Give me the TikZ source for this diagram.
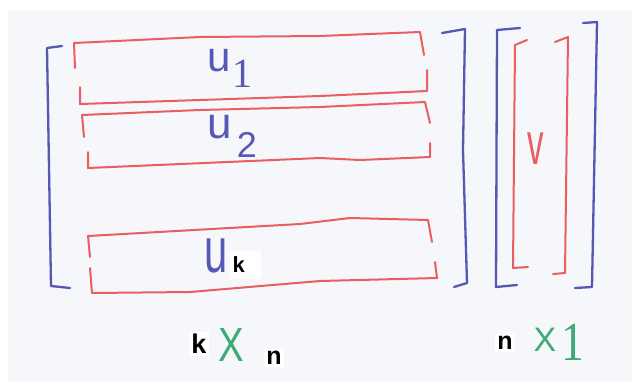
\documentclass[tikz,border=0pt]{standalone}
\usepackage{fontspec}
\setmainfont{Liberation Sans}
\newfontfamily\penserif{Liberation Serif}
\definecolor{penred}{HTML}{E95E61}
\definecolor{penblue}{HTML}{5558B4}
\definecolor{pengreen}{HTML}{3FAA78}
\definecolor{paper}{HTML}{F5F7FB}
\tikzset{
  redpen/.style={draw=penred, line width=2pt, line cap=round, line join=round},
  bluepen/.style={draw=penblue, line width=2.3pt, line cap=round, line join=round},
  handtxt/.style={inner sep=0pt},
  typed/.style={inner sep=2.5pt, fill=white, text=black},
}
\newcommand{\fsz}[1]{\fontsize{#1}{#1}\selectfont}
\begin{document}
\begin{tikzpicture}[x=1pt,y=-1pt]
\useasboundingbox (0,0) rectangle (632,381);
\fill[white] (0,0) rectangle (632,381);
\fill[paper] (8,10) rectangle (632,381);

% big left matrix brackets
\draw[bluepen] (62,46) -- (47,48) -- (51,286) -- (70,288);
\draw[bluepen] (442,33) -- (465,29) -- (463,150) -- (467,283) -- (454,287);

% row box u1
\draw[redpen] (75,68) -- (74,43) -- (200,37) -- (320,36) -- (420,32) -- (424,55);
\draw[redpen] (80,87) -- (80,104) -- (320,96) -- (427,91) -- (427,70);
% row box u2
\draw[redpen] (84,137) -- (82,115) -- (200,110) -- (320,107) -- (425,102) -- (430,123);
\draw[redpen] (88,152) -- (88,168) -- (320,158) -- (360,160) -- (430,157) -- (430,143);
% row box uk
\draw[redpen] (90,257) -- (88,236) -- (300,224) -- (350,218) -- (428,220) -- (432,242);
\draw[redpen] (90,268) -- (92,293) -- (190,292) -- (320,281) -- (437,278) -- (435,262);

% right vector brackets
\draw[bluepen] (520,28) -- (497,30) -- (496,287) -- (517,285);
\draw[bluepen] (583,23) -- (597,22) -- (592,287) -- (575,288);
\draw[redpen] (527,40) -- (515,45) -- (513,268) -- (528,267);
\draw[redpen] (555,42) -- (568,37) -- (565,273) -- (553,274);

% handwritten labels
\node[handtxt, text=penblue, font=\fsz{42}] (u1) at (219,61) {u};
\node[handtxt, text=penblue, font=\fsz{32}\penserif] (s1) at (242,74) {\scalebox{1.25}[1.3]{1}};
\node[handtxt, text=penblue, font=\fsz{44}] (u2) at (220,127) {u};
\node[handtxt, text=penblue, font=\fsz{36}] (s2) at (247,145) {2};
\node[handtxt, text=penblue, font=\fsz{44}] (uk) at (216,256) {\scalebox{0.95}[1.45]{u}};
\node[typed, font=\fsz{22}\bfseries, text width=26pt, align=left, minimum height=28pt, anchor=west] (sk) at (230,265) {k};
\node[handtxt, text=penred, font=\fsz{60}] (v) at (536,149) {\scalebox{0.55}[1]{v}};

% dimensions
\node[typed, font=\fsz{27}\bfseries] (dk) at (199,344) {k};
\node[handtxt, text=pengreen, font=\fsz{48}] (x1) at (231,345) {\scalebox{0.8}[1]{X}};
\node[typed, font=\fsz{25}\bfseries] (dn) at (274,358) {n};
\node[typed, font=\fsz{25}\bfseries] (dn2) at (505,343) {n};
\node[handtxt, text=pengreen, font=\fsz{34}] (x2) at (545,340) {X};
\node[handtxt, text=pengreen, font=\fsz{38}\penserif] (one) at (573,342) {\scalebox{1.2}[1.45]{1}};
\end{tikzpicture}
\end{document}
